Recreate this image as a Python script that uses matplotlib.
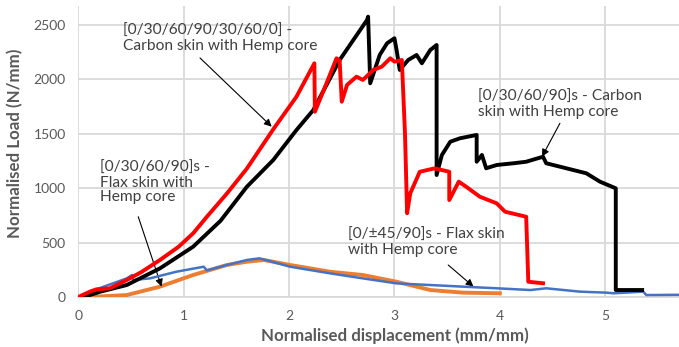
import matplotlib
matplotlib.use("Agg")
import matplotlib.pyplot as plt

# Carbon skin [0/30/60/90]s (black)
black_x = [0, 0.05, 0.21, 0.46, 0.775, 1.09, 1.35, 1.6, 1.85, 2.07, 2.23, 2.48, 2.74, 2.75,
           2.77, 2.86, 2.93, 3.0, 3.02, 3.05, 3.13, 3.21, 3.26, 3.34, 3.40,
           3.40, 3.45, 3.53, 3.62, 3.78, 3.78, 3.83, 3.87, 3.97, 4.13, 4.25, 4.41, 4.44,
           4.63, 4.82, 4.95, 5.10, 5.10, 5.35]
black_y = [0, 0, 49, 110, 263, 462, 700, 1013, 1258, 1533, 1717, 2176, 2544, 2574,
           1962, 2222, 2330, 2376, 2268, 2085, 2176, 2222, 2146, 2268, 2314,
           1120, 1304, 1426, 1457, 1488, 1242, 1304, 1182, 1212, 1228, 1242, 1288, 1228,
           1182, 1136, 1059, 998, 64, 64]

# Carbon skin [0/30/60/90/30/60/0] (red)
red_x = [0, 0.11, 0.17, 0.30, 0.46, 0.6, 0.775, 0.95, 1.09, 1.22, 1.41, 1.6, 1.85,
         2.07, 2.24, 2.245, 2.35, 2.45, 2.48, 2.50, 2.55, 2.64, 2.70, 2.80, 2.88, 2.96,
         3.0, 3.07, 3.10, 3.12, 3.15, 3.24, 3.38, 3.52, 3.52, 3.61, 3.68, 3.81, 3.97, 4.05,
         4.25, 4.27, 4.41]
red_y = [0, 49, 70, 80, 156, 230, 340, 460, 585, 737, 950, 1180, 1540,
         1839, 2146, 1701, 1950, 2192, 2170, 1793, 1947, 2023, 1993, 2085, 2115, 2192,
         2161, 2176, 1500, 769, 952, 1150, 1181, 1150, 890, 1059, 1013, 921, 860, 783,
         737, 140, 126]

# Flax skin [0/±45/90]s (blue)
blue_x = [0, 0.17, 0.46, 0.51, 0.52, 0.68, 0.93, 1.19, 1.22, 1.41, 1.6, 1.72, 2.01, 2.39,
          2.70, 3.02, 3.34, 3.65, 3.97, 4.29, 4.44, 4.76, 5.01, 5.08, 5.36, 5.39, 5.70]
blue_y = [0, 70, 171, 202, 156, 171, 232, 278, 245, 294, 340, 355, 278, 217,
          171, 125, 110, 95, 80, 64, 80, 49, 40, 34, 49, 18, 20]

# Flax skin [0/30/60/90]s (orange)
orange_x = [0, 0.15, 0.46, 0.775, 1.09, 1.41, 1.6, 1.76, 2.01, 2.39, 2.70, 3.02, 3.34, 3.65, 4.0]
orange_y = [0, 2, 18, 95, 202, 294, 324, 340, 294, 232, 202, 140, 64, 40, 34]

x_ticks = [0, 1, 2, 3, 4, 5]
y_ticks = [0, 500, 1000, 1500, 2000, 2500]

label_carbon7 = "[0/30/60/90/30/60/0] -\nCarbon skin with Hemp core"
label_carbon8 = "[0/30/60/90]s - Carbon\nskin with Hemp core"
label_flax8 = "[0/30/60/90]s -\nFlax skin with\nHemp core"
label_flax45 = "[0/\u00b145/90]s - Flax skin\nwith Hemp core"

plt.rcParams['font.family'] = ['Lato', 'DejaVu Sans']

W, H = 679, 347
fig = plt.figure(figsize=(W / 100, H / 100), dpi=100)
ax = fig.add_axes([78.3 / W, 1 - 297 / H, (679 - 78.3) / W, (297 - 6) / H])

grid_c = '#d9d9d9'
text_c = '#595959'

ax.plot(orange_x, orange_y, color='#ED7D31', lw=2.8, zorder=3)
ax.plot(blue_x, blue_y, color='#4472C4', lw=1.8, zorder=4)
ax.plot(black_x, black_y, color='black', lw=2.8, zorder=5)
ax.plot(red_x, red_y, color='#FF0000', lw=2.8, zorder=6)

ax.set_xlim(0, 5.70)
ax.set_ylim(0, 2672)
ax.set_xticks(x_ticks)
ax.set_yticks(y_ticks)
ax.grid(True, color=grid_c, lw=1.3)
ax.set_axisbelow(True)
for s in ['top', 'right', 'left']:
    ax.spines[s].set_visible(False)
ax.spines['bottom'].set_color(grid_c)
ax.spines['bottom'].set_linewidth(1.3)
ax.tick_params(length=0, labelsize=10, colors=text_c, pad=9)

fig.text(395 / W, 1 - 336 / H, "Normalised displacement (mm/mm)", ha='center', va='center',
         fontsize=12.2, fontweight='bold', color=text_c)
fig.text(15 / W, 1 - 143 / H, "Normalised Load (N/mm)", ha='center', va='center',
         rotation=90, fontsize=12.2, fontweight='bold', color=text_c)

arrow = dict(arrowstyle='-|>', color='black', lw=0.8, mutation_scale=11, shrinkA=0, shrinkB=0)
tk = dict(fontsize=11.2, color='#404040', ha='left', va='top', linespacing=1.05)

ax.text(0.42, 2507, label_carbon7, **tk)
ax.annotate("", xy=(1.835, 1564), xytext=(1.155, 2195), arrowprops=arrow)

ax.text(3.795, 1901, label_carbon8, **tk)
ax.annotate("", xy=(4.40, 1288), xytext=(4.57, 1595), arrowprops=arrow)

ax.text(0.206, 1249, label_flax8, **tk)
ax.annotate("", xy=(0.79, 95), xytext=(0.569, 737), arrowprops=arrow)

ax.text(2.56, 634, label_flax45, **tk)
ax.annotate("", xy=(3.75, 95), xytext=(3.51, 294), arrowprops=arrow)

fig.savefig("out.png", dpi=100)
